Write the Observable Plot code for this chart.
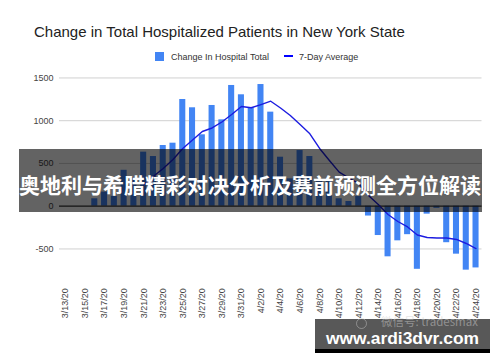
<!DOCTYPE html>
<html><head><meta charset="utf-8">
<script src="https://cdn.jsdelivr.net/npm/d3@7"></script>
<script src="https://cdn.jsdelivr.net/npm/@observablehq/plot@0.6"></script>
<style>
body{margin:0;background:#fff;}
#wrap{position:relative;width:500px;height:362px;overflow:hidden;font-family:"Liberation Sans",Arial,sans-serif;background:#fff;}
#chart{position:absolute;left:0;top:0;}
.abs{position:absolute;white-space:nowrap;}
.title{left:34px;top:24px;font-size:15px;line-height:15px;color:#222;}
.leg{font-size:9px;line-height:9px;color:#333;top:52.5px;}
.banner{left:19px;top:149px;width:463px;height:63px;background:rgba(0,0,0,0.61);}
.btext{left:0;width:500px;top:172.5px;text-align:center;font-family:"Noto Sans CJK SC",sans-serif;font-weight:bold;font-size:21px;line-height:22px;color:#fff;}
.wm{left:315px;top:319px;width:175px;height:30px;background:rgba(70,70,70,0.9);}
.wmbar{left:315px;top:349px;width:175px;height:4px;background:#000;}
.wmtext{left:315px;width:175px;top:329.5px;text-align:center;font-weight:bold;font-size:17.4px;line-height:17px;color:#fff;}
.wmfaint{left:381px;top:315px;font-family:"Noto Sans CJK SC",sans-serif;font-size:11.5px;line-height:13px;color:rgba(205,205,205,0.5);}
.wmlogo{left:356px;top:318px;width:9px;height:9px;border:1.5px solid rgba(205,205,205,0.45);border-radius:50%;}
</style>
</head><body>
<div id="wrap">
  <div id="chart"></div>
  <div class="abs title">Change in Total Hospitalized Patients in New York State</div>
  <div class="abs" style="left:155px;top:52px;width:9px;height:9px;background:#4285f4;"></div>
  <div class="abs leg" style="left:171px;">Change In Hospital Total</div>
  <div class="abs" style="left:284px;top:55px;width:9px;height:2px;background:#0000ff;"></div>
  <div class="abs leg" style="left:299px;">7-Day Average</div>
  <div class="abs banner"></div>
  <div class="abs btext">奥地利与希腊精彩对决分析及赛前预测全方位解读</div>
  <div class="abs wm"></div>
  <div class="abs wmlogo"></div>
  <div class="abs wmfaint">微信号: tradesmax</div>
  <div class="abs wmbar"></div>
  <div class="abs wmtext">www.ardi3dvr.com</div>
</div>
<script>
const dates = ["3/13/20","3/14/20","3/15/20","3/16/20","3/17/20","3/18/20","3/19/20","3/20/20","3/21/20","3/22/20",
  "3/23/20","3/24/20","3/25/20","3/26/20","3/27/20","3/28/20","3/29/20","3/30/20","3/31/20","4/1/20",
  "4/2/20","4/3/20","4/4/20","4/5/20","4/6/20","4/7/20","4/8/20","4/9/20","4/10/20","4/11/20",
  "4/12/20","4/13/20","4/14/20","4/15/20","4/16/20","4/17/20","4/18/20","4/19/20","4/20/20","4/21/20",
  "4/22/20","4/23/20","4/24/20"];
const changeInHospitalTotal = [0,0,0,87,165,115,420,330,632,581,
  710,737,1248,1151,835,1178,1010,1412,1303,1151,
  1423,1100,573,320,651,581,300,290,87,55,
  113,-115,-343,-592,-405,-333,-738,-93,-25,-427,
  -561,-748,-722];
const sevenDayAverage = [null,null,null,null,null,null,null,null,250,350,
  441,546,675,774,874,915,985,1072,1166,1151,
  1189,1228,1149,1061,956,847,675,535,398,330,
  265,125,20,-97,-179,-243,-337,-366,-372,-372,
  -389,-436,-495];
const yTicks = [-500, 0, 500, 1000, 1500];
const xTickLabels = ["3/13/20","3/15/20","3/17/20","3/19/20","3/21/20","3/23/20","3/25/20","3/27/20","3/29/20","3/31/20",
  "4/2/20","4/4/20","4/6/20","4/8/20","4/10/20","4/12/20","4/14/20","4/16/20","4/18/20","4/20/20","4/22/20","4/24/20"];

const rows = dates.map((d, i) => ({date: d, change: changeInHospitalTotal[i], avg: sevenDayAverage[i]}));
const avgRows = rows.filter(r => r.avg !== null);

const plot = Plot.plot({
  width: 500,
  height: 362,
  marginLeft: 59,
  marginRight: 18.5,
  marginTop: 73.175,
  marginBottom: 79.35,
  style: {fontFamily: "'Liberation Sans', Arial, sans-serif", fontSize: "9px", color: "#444", background: "transparent", overflow: "visible"},
  x: {type: "band", domain: dates, paddingInner: 0.38, paddingOuter: 0.3, label: null,
      tickRotate: -90, tickSize: 0, tickPadding: 5, ticks: xTickLabels},
  y: {domain: [-900, 1550], ticks: yTicks, tickSize: 0, tickPadding: 6, label: null,
      tickFormat: d => String(d)},
  marks: [
    Plot.ruleY(yTicks.filter(v => v !== 0), {stroke: "#d0d0d0", strokeWidth: 1}),
    Plot.barY(rows, {x: "date", y: "change", fill: "#4285f4"}),
    Plot.ruleY([0], {stroke: "#333", strokeWidth: 1.3}),
    Plot.lineY(avgRows, {x: "date", y: "avg", stroke: "#1c1ce0", strokeWidth: 1.4})
  ]
});
document.getElementById("chart").appendChild(plot);
</script>
</body></html>
